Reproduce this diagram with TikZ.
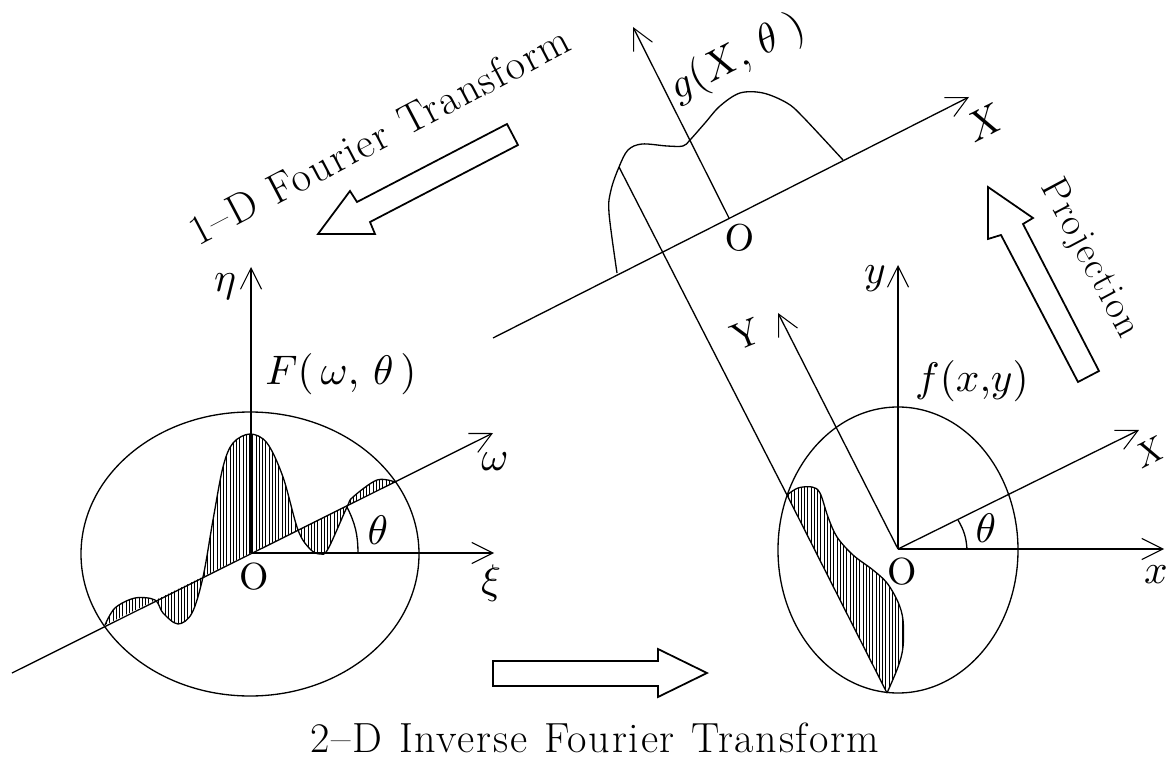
\documentclass[tikz,border=0pt]{standalone}
\usepackage{fontspec}
\usetikzlibrary{arrows.meta}
\newfontfamily\titlefont[LetterSpace=4]{Latin Modern Roman}
\tikzset{
  line/.style={line width=0.75pt,line join=round},
  axis/.style={line,-{Straight Barb[length=12pt,width=12pt,line width=0.6pt]}},
  block/.style={line width=1pt,line join=miter,fill=white},
  hatch/.style={line width=0.4pt},
  lab/.style={inner sep=0pt,scale=2.35},
  rlab/.style={inner sep=0pt,scale=2.15},
  title/.style={inner sep=0pt,anchor=base,font=\titlefont\fontsize{24}{28}\selectfont},
}
\begin{document}
\begin{tikzpicture}[x=0.02cm,y=-0.02cm]
\useasboundingbox (0,0) rectangle (1170,760);
% ---- left: F(omega,theta)
\coordinate (L) at (251,553);
\coordinate (Leta) at (251,267);
\coordinate (Lxi) at (494,553);
\coordinate (Lom) at (493,433);
\coordinate (Lst) at (12,673);
\coordinate (La) at (358,553);
\coordinate (Lb) at (347,507);
\draw[line] (250,554) ellipse [x radius=169, y radius=142];
\begin{scope}
\clip plot[smooth,tension=.55] coordinates {(105,625)(115,608)(135,598)(155,600)(163,613)(178,624)(192,613)(203,577)(213,520)(223,467)(233,443)(250,434)(267,443)(283,477)(298,530)(310,549)(320,554)(328,549)(347,507)(353,497)(377,480)(395,482)} -- cycle;
\foreach \i in {0,...,92} \draw[hatch] ({100+3.25*\i},420) -- ({100+3.25*\i},640);
\end{scope}
\draw[line] plot[smooth,tension=.55] coordinates {(105,625)(115,608)(135,598)(155,600)(163,613)(178,624)(192,613)(203,577)(213,520)(223,467)(233,443)(250,434)(267,443)(283,477)(298,530)(310,549)(320,554)(328,549)(347,507)(353,497)(377,480)(395,482)};
\draw[axis] (L) -- (Leta);
\draw[axis] (L) -- (Lxi);
\draw[axis] (Lst) -- (Lom);
\draw[line] (La) to[bend right=13] (Lb);
\node[lab] (n1) at (225,287) {$\eta$};
\node[lab] (n2) at (341,374) {$F(\,\omega,\,\theta\,)$};
\node[lab] (n3) at (495,462) {$\omega$};
\node[lab] (n4) at (491,583) {$\xi$};
\node[lab] (n5) at (378,530) {$\theta$};
\node[rlab] (n6) at (254,577) {O};
% ---- upper: g(X,theta)
\coordinate (G) at (729,218);
\coordinate (Gy) at (633,27);
\coordinate (Gst) at (493,338);
\coordinate (Gx) at (969,97);
\draw[axis] (Gst) -- (Gx);
\draw[axis] (G) -- (Gy);
\coordinate (C0) at (617,273);
\coordinate (C1) at (843,160);
\draw[line] plot[smooth,tension=.55] coordinates {(C0)(609,213)(611,190)(619,167)(628,150)(642,144)(667,146)(683,146)(690,140)(705,123)(720,106)(740,93)(763,93)(787,103)(803,117)(C1)};
\node[lab,rotate=27] (n7) at (738,58) {$g(X,\,\theta\;)$};
\node[lab,rotate=27] (n8) at (985,122) {$X$};
\node[rlab,rotate=-8] (n9) at (740,238) {O};
% ---- right: f(x,y)
\coordinate (R) at (898,549);
\coordinate (Rx) at (1164,549);
\coordinate (Ry) at (898,265);
\coordinate (RX) at (1139,430);
\coordinate (RY) at (778,313);
\coordinate (Pa) at (619,167);
\coordinate (Pb) at (787,495);
\coordinate (Pc) at (887,693);
\coordinate (Ra) at (967,549);
\coordinate (Rb) at (958,520);
\draw[line] (898,550) ellipse [x radius=120, y radius=143];
\begin{scope}
\clip plot[smooth,tension=.55] coordinates {(Pb)(798,488)(812,487)(820,493)(828,517)(837,537)(853,555)(873,570)(887,583)(898,602)(903,620)(903,647)(898,667)(Pc)} -- cycle;
\foreach \i in {0,...,38} \draw[hatch] ({785+3.25*\i},480) -- ({785+3.25*\i},700);
\end{scope}
\draw[line] plot[smooth,tension=.55] coordinates {(Pb)(798,488)(812,487)(820,493)(828,517)(837,537)(853,555)(873,570)(887,583)(898,602)(903,620)(903,647)(898,667)(Pc)};
\draw[line] (Pa) -- (Pb) -- (Pc);
\draw[axis] (R) -- (Rx);
\draw[axis] (R) -- (Ry);
\draw[axis] (R) -- (RX);
\draw[axis] (R) -- (RY);
\draw[line] (Ra) to[bend right=13] (Rb);
\node[lab] (n10) at (875,279) {$y$};
\node[rlab,rotate=22] (n11) at (746,334) {Y};
\node[lab] (n12) at (972,381) {$f(x{,}y)$};
\node[inner sep=0pt,scale=1.95,rotate=27] (n13) at (1150,452) {$X$};
\node[lab] (n14) at (1156,575) {$x$};
\node[lab] (n15) at (986,528) {$\theta$};
\node[rlab] (n16) at (902,572) {O};
% ---- block arrows and titles
\draw[block] (318,234) -- (350,191) -- (357,202) -- (507,124) -- (518,145) -- (370,222) -- (375,234) -- cycle;
\draw[block] (988,187) -- (1033,218) -- (1023,224) -- (1099,371) -- (1078,382) -- (1001,235) -- (988,239) -- cycle;
\draw[block] (493,661) -- (658,661) -- (658,649) -- (707,673) -- (658,697) -- (658,686) -- (493,686) -- cycle;
\node[title,rotate=27.7] (t1) at (386,148) {1–D\hspace{0.4em}Fourier\hspace{0.4em}Transform};
\node[title,rotate=-62,font=\titlefont\fontsize{22}{26}\selectfont] (t2) at (1081,263) {Projection};
\node[title] (t3) at (595,752) {2–D\hspace{0.4em}Inverse\hspace{0.4em}Fourier\hspace{0.4em}Transform};
\end{tikzpicture}
\end{document}
